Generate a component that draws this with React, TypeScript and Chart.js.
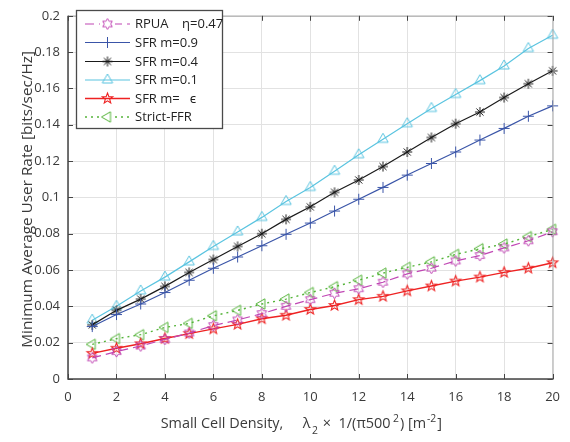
import React, { useEffect, useRef } from "react";
import { Chart, registerables } from "chart.js";

Chart.register(...registerables);

const xValues = [1, 2, 3, 4, 5, 6, 7, 8, 9, 10, 11, 12, 13, 14, 15, 16, 17, 18, 19, 20];
const rpua = [0.0116, 0.0151, 0.0182, 0.0218, 0.0253, 0.0294, 0.0325, 0.036, 0.040, 0.0437, 0.0472, 0.0497, 0.0533, 0.0579, 0.061, 0.065, 0.068, 0.0722, 0.0761, 0.0811];
const sfr09 = [0.0289, 0.0355, 0.0413, 0.0476, 0.0544, 0.061, 0.0672, 0.0734, 0.0797, 0.0859, 0.0925, 0.099, 0.1055, 0.1123, 0.1187, 0.125, 0.1316, 0.138, 0.1447, 0.1504];
const sfr04 = [0.0298, 0.0378, 0.044, 0.051, 0.0587, 0.0658, 0.073, 0.080, 0.0879, 0.0948, 0.1028, 0.1096, 0.117, 0.125, 0.133, 0.1406, 0.147, 0.155, 0.1626, 0.1697];
const sfr01 = [0.0324, 0.040, 0.0485, 0.0561, 0.0645, 0.073, 0.081, 0.089, 0.0978, 0.1055, 0.1144, 0.1235, 0.132, 0.1406, 0.149, 0.1567, 0.1643, 0.1724, 0.182, 0.1893];
const sfrEps = [0.0141, 0.0169, 0.0194, 0.0223, 0.025, 0.0276, 0.0301, 0.0332, 0.0351, 0.0383, 0.0405, 0.0437, 0.0455, 0.0485, 0.0512, 0.0539, 0.0561, 0.0587, 0.061, 0.064];
const strictFfr = [0.0191, 0.0222, 0.0244, 0.0284, 0.0306, 0.0348, 0.0378, 0.0413, 0.044, 0.0476, 0.0508, 0.0544, 0.0583, 0.0615, 0.0645, 0.0686, 0.0717, 0.0743, 0.0784, 0.0824];

const seriesLabels = ["RPUA    \u03b7=0.47", "SFR m=0.9", "SFR m=0.4", "SFR m=0.1", "SFR m=   \u03f5", "Strict-FFR"];
const xTitleParts = ["Small Cell Density,", "\u03bb", "2", "\u00d7  1/(\u03c0500", "2", ") [m", "-2", "]"];
const yTitle = "Minimum Average User Rate [bits/sec/Hz]";

const FONT = "'Open Sans', 'Noto Sans', sans-serif";
const TEXT = "#3a3a3a";

function markerCanvas(kind: string, color: string, r: number, lw: number) {
  const size = Math.ceil(2 * r + 4);
  const c = document.createElement("canvas");
  c.width = size;
  c.height = size;
  const ctx = c.getContext("2d")!;
  const cx = size / 2;
  const cy = size / 2;
  ctx.strokeStyle = color;
  ctx.lineWidth = lw;
  ctx.lineJoin = "miter";
  const poly = (n: number, inner: number, start: number) => {
    ctx.beginPath();
    for (let i = 0; i < 2 * n; i++) {
      const rad = i % 2 === 0 ? r : r * inner;
      const a = start + (i * Math.PI) / n;
      const px = cx + rad * Math.cos(a);
      const py = cy + rad * Math.sin(a);
      if (i === 0) ctx.moveTo(px, py);
      else ctx.lineTo(px, py);
    }
    ctx.closePath();
    ctx.stroke();
  };
  const tri = (angles: number[]) => {
    ctx.beginPath();
    angles.forEach((deg, i) => {
      const a = (deg * Math.PI) / 180;
      const px = cx + r * Math.cos(a);
      const py = cy + r * Math.sin(a);
      if (i === 0) ctx.moveTo(px, py);
      else ctx.lineTo(px, py);
    });
    ctx.closePath();
    ctx.stroke();
  };
  if (kind === "hexagram") poly(6, 0.577, -Math.PI / 2);
  else if (kind === "pentagram") poly(5, 0.42, -Math.PI / 2);
  else if (kind === "triUp") tri([-90, 30, 150]);
  else if (kind === "triLeft") tri([180, -60, 60]);
  else if (kind === "plus") {
    ctx.beginPath();
    ctx.moveTo(cx - r, cy);
    ctx.lineTo(cx + r, cy);
    ctx.moveTo(cx, cy - r);
    ctx.lineTo(cx, cy + r);
    ctx.stroke();
  } else if (kind === "asterisk") {
    ctx.beginPath();
    for (let i = 0; i < 4; i++) {
      const a = (i * Math.PI) / 4;
      ctx.moveTo(cx - r * Math.cos(a), cy - r * Math.sin(a));
      ctx.lineTo(cx + r * Math.cos(a), cy + r * Math.sin(a));
    }
    ctx.stroke();
  }
  return c;
}

export default function App() {
  const ref = useRef<HTMLCanvasElement | null>(null);
  useEffect(() => {
    if (!ref.current) return;
    const styles = [
      { color: "#c046b4", marker: markerCanvas("hexagram", "#c046b4", 5.5, 1), dash: [9, 5], width: 1.2 },
      { color: "#3a55a8", marker: markerCanvas("plus", "#3a55a8", 5.5, 1), dash: [], width: 1.2 },
      { color: "#1a1a1a", marker: markerCanvas("asterisk", "#1a1a1a", 5, 1), dash: [], width: 1.2 },
      { color: "#5ac4e0", marker: markerCanvas("triUp", "#5ac4e0", 6, 1), dash: [], width: 1.2 },
      { color: "#ee2222", marker: markerCanvas("pentagram", "#ee2222", 5.5, 1.1), dash: [], width: 1.4 },
      { color: "#55b43a", marker: markerCanvas("triLeft", "#55b43a", 6, 1), dash: [2, 4], width: 1.4 },
    ];
    const dataSets = [rpua, sfr09, sfr04, sfr01, sfrEps, strictFfr];

    const frame = {
      id: "frame",
      afterDatasetsDraw(chart: any) {
        const { ctx, chartArea: a } = chart;
        ctx.save();
        ctx.lineWidth = 1;
        ctx.strokeStyle = "#aaaaaa";
        ctx.beginPath();
        ctx.moveTo(a.left, a.top + 0.5);
        ctx.lineTo(a.right + 0.5, a.top + 0.5);
        ctx.lineTo(a.right + 0.5, a.bottom);
        ctx.stroke();
        ctx.strokeStyle = "#444444";
        ctx.lineWidth = 1.5;
        ctx.beginPath();
        ctx.moveTo(a.left, a.top);
        ctx.lineTo(a.left, a.bottom);
        ctx.lineTo(a.right + 1, a.bottom);
        ctx.stroke();
        ctx.lineWidth = 1;
        const xs = chart.scales.x;
        const ys = chart.scales.y;
        ctx.beginPath();
        xs.ticks.forEach((t: any) => {
          const px = Math.round(xs.getPixelForValue(t.value)) + 0.5;
          ctx.moveTo(px, a.bottom);
          ctx.lineTo(px, a.bottom - 5);
          ctx.moveTo(px, a.top);
          ctx.lineTo(px, a.top + 5);
        });
        ys.ticks.forEach((t: any) => {
          const py = Math.round(ys.getPixelForValue(t.value)) + 0.5;
          ctx.moveTo(a.left, py);
          ctx.lineTo(a.left + 5, py);
          ctx.moveTo(a.right, py);
          ctx.lineTo(a.right - 5, py);
        });
        ctx.stroke();
        ctx.restore();
      },
      afterDraw(chart: any) {
        const { ctx, chartArea: a } = chart;
        ctx.save();
        // legend
        const bx = 76.5, by = 10.5, bw = 146, bh = 118;
        ctx.fillStyle = "#ffffff";
        ctx.fillRect(bx, by, bw, bh);
        ctx.strokeStyle = "#4a4a4a";
        ctx.lineWidth = 1.3;
        ctx.strokeRect(bx, by, bw, bh);
        const rows = [24, 42.5, 61.5, 80, 98.5, 117];
        ctx.font = `13px ${FONT}`;
        ctx.textBaseline = "middle";
        ctx.textAlign = "left";
        styles.forEach((s, i) => {
          const y = rows[i];
          ctx.strokeStyle = s.color;
          ctx.lineWidth = s.width;
          ctx.setLineDash(s.dash);
          ctx.beginPath();
          ctx.moveTo(85, y);
          ctx.lineTo(130, y);
          ctx.stroke();
          ctx.setLineDash([]);
          if (i === 0 || i === 5) {
            ctx.fillStyle = "#ffffff";
            ctx.fillRect(100, y - 7, 15, 14);
          }
          const m = s.marker;
          ctx.drawImage(m, 107.5 - m.width / 2, y - m.height / 2);
          ctx.fillStyle = "#222222";
          ctx.fillText(seriesLabels[i], 135, y + 0.5);
        });

        // axis titles
        ctx.fillStyle = TEXT;
        ctx.textBaseline = "alphabetic";
        ctx.font = `14px ${FONT}`;
        const w0 = ctx.measureText(xTitleParts[0]).width;
        const fs = (14 * 122.6) / w0;
        const big = `${fs}px ${FONT}`;
        const small = `${fs * 0.72}px ${FONT}`;
        const base = 427.5;
        let x = 160.7;
        ctx.font = big;
        ctx.fillText(xTitleParts[0], x, base);
        x = 302.7;
        ctx.fillText(xTitleParts[1], x, base);
        x += ctx.measureText(xTitleParts[1]).width + 1.5;
        ctx.font = small;
        ctx.fillText(xTitleParts[2], x, base + 6);
        x += ctx.measureText(xTitleParts[2]).width + 5;
        ctx.font = big;
        ctx.fillText(xTitleParts[3], x, base);
        x += ctx.measureText(xTitleParts[3]).width + 2.5;
        ctx.font = small;
        ctx.fillText(xTitleParts[4], x, base - 6);
        x += ctx.measureText(xTitleParts[4]).width + 1;
        ctx.font = big;
        ctx.fillText(xTitleParts[5], x, base);
        x += ctx.measureText(xTitleParts[5]).width + 1;
        ctx.font = small;
        ctx.fillText(xTitleParts[6], x, base - 6);
        x += ctx.measureText(xTitleParts[6]).width + 1;
        ctx.font = big;
        ctx.fillText(xTitleParts[7], x, base);

        ctx.translate(28, (a.top + a.bottom) / 2 + 2);
        ctx.rotate(-Math.PI / 2);
        ctx.font = `14px ${FONT}`;
        const wy = ctx.measureText(yTitle).width;
        ctx.font = `${(14 * 297) / wy}px ${FONT}`;
        ctx.textAlign = "center";
        ctx.textBaseline = "middle";
        ctx.fillText(yTitle, 0, 0);
        ctx.restore();
      },
    };

    const chart = new Chart(ref.current, {
      type: "line",
      data: {
        labels: xValues,
        datasets: dataSets.map((d, i) => ({
          label: seriesLabels[i],
          data: d.map((v, j) => ({ x: xValues[j], y: v })),
          borderColor: styles[i].color,
          backgroundColor: styles[i].color,
          borderWidth: styles[i].width,
          borderDash: styles[i].dash,
          pointStyle: styles[i].marker as any,
          pointRadius: 6,
          pointHoverRadius: 6,
          tension: 0,
          clip: false as any,
        })),
      },
      options: {
        animation: false,
        responsive: false,
        maintainAspectRatio: false,
        layout: { padding: { top: 5, right: 17, left: 0, bottom: 0 } },
        plugins: { legend: { display: false }, tooltip: { enabled: false } },
        scales: {
          x: {
            type: "linear",
            min: 0,
            max: 20,
            ticks: {
              stepSize: 2,
              color: TEXT,
              font: { family: FONT, size: 13 },
              padding: 10,
              maxRotation: 0,
            },
            grid: { color: "#e2e2e2", lineWidth: 1, drawTicks: false },
            border: { display: false },
            afterFit: (s: any) => {
              s.height = 63;
            },
          },
          y: {
            type: "linear",
            min: 0,
            max: 0.2,
            ticks: {
              stepSize: 0.02,
              color: TEXT,
              font: { family: FONT, size: 13 },
              padding: 8,
              callback: (v: any) => String(Number(Number(v).toFixed(2))),
            },
            grid: { color: "#e2e2e2", lineWidth: 1, drawTicks: false },
            border: { display: false },
            afterFit: (s: any) => {
              s.width = 68;
            },
          },
        },
      },
      plugins: [frame],
    });
    return () => chart.destroy();
  }, []);

  return (
    <div style={{ position: "fixed", left: 0, top: 0, width: 570, height: 442, background: "#ffffff" }}>
      <canvas ref={ref} width={570} height={442} style={{ width: 570, height: 442 }} />
    </div>
  );
}
